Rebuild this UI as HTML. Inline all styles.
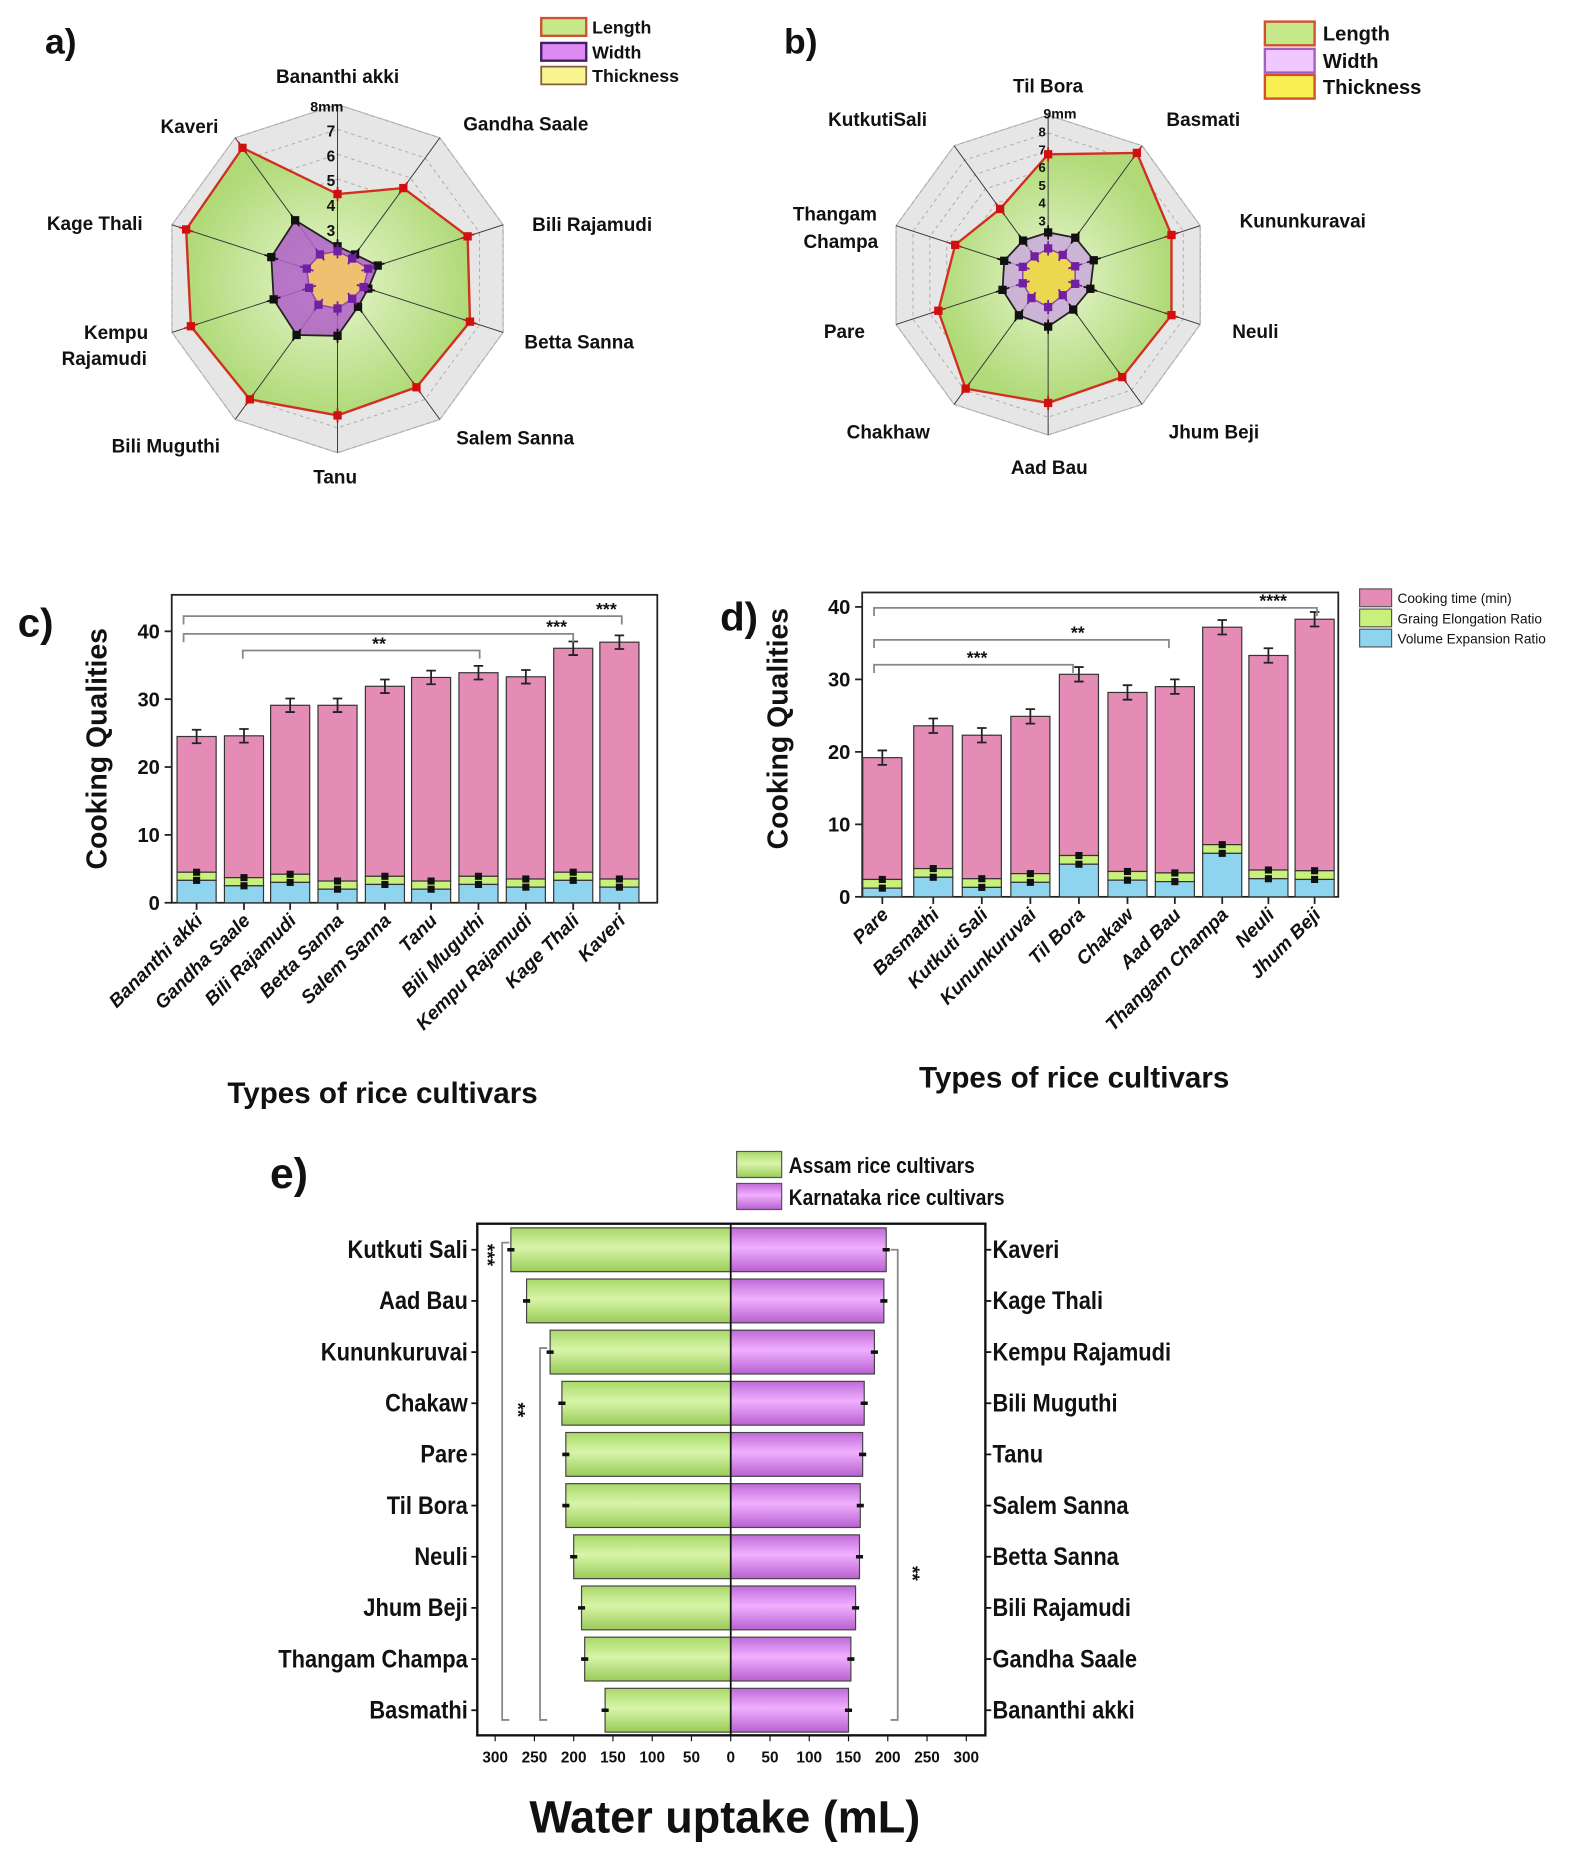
<!DOCTYPE html>
<html><head><meta charset="utf-8"><style>
html,body{margin:0;padding:0;background:#fff}
svg{display:block}
text{font-family:"Liberation Sans",sans-serif;font-weight:bold;fill:#111}
.n{font-family:"Liberation Sans Narrow","Liberation Sans",sans-serif}
</style></head><body>
<svg id="s" width="1587" height="1860" viewBox="0 0 1340 1570" xmlns="http://www.w3.org/2000/svg">
<defs>
<linearGradient id="gg" x1="0" y1="0" x2="0" y2="1"><stop offset="0" stop-color="#a9d86a"/><stop offset="0.45" stop-color="#d8f5a8"/><stop offset="1" stop-color="#9acb5a"/></linearGradient>
<linearGradient id="pg" x1="0" y1="0" x2="0" y2="1"><stop offset="0" stop-color="#c06ad8"/><stop offset="0.45" stop-color="#f0b0ff"/><stop offset="1" stop-color="#b860d0"/></linearGradient>
<radialGradient id="rg"><stop offset="0" stop-color="#e8f6d0"/><stop offset="1" stop-color="#b0da78"/></radialGradient>
</defs>
<g id="radar"></g>
<text x="38" y="45" font-size="30">a)</text>
<rect x="457" y="15" width="38" height="15" fill="#c5e88a" stroke="#d05030" stroke-width="2"/>
<rect x="457" y="36" width="38" height="15" fill="#dc8cf0" stroke="#402060" stroke-width="2"/>
<rect x="457" y="56" width="38" height="15" fill="#f8f490" stroke="#806040" stroke-width="1.5"/>
<text x="500" y="28" font-size="15">Length</text>
<text x="500" y="49" font-size="15">Width</text>
<text x="500" y="69" font-size="15">Thickness</text>
<g font-size="16" text-anchor="middle">
<text x="285" y="70">Bananthi akki</text>
<text x="444" y="110">Gandha Saale</text>
<text x="500" y="195">Bili Rajamudi</text>
<text x="489" y="294">Betta Sanna</text>
<text x="435" y="375">Salem Sanna</text>
<text x="283" y="408">Tanu</text>
<text x="140" y="382">Bili Muguthi</text>
<text x="98" y="286">Kempu</text><text x="88" y="308">Rajamudi</text>
<text x="80" y="194">Kage Thali</text>
<text x="160" y="112">Kaveri</text>
</g>
<g font-size="12" text-anchor="end"><text x="290" y="94">8mm</text></g>
<text x="662" y="45" font-size="30">b)</text>
<rect x="1068" y="18" width="42" height="20" fill="#c5e88a" stroke="#d05030" stroke-width="2"/>
<rect x="1068" y="41" width="42" height="20" fill="#f0c8ff" stroke="#a060c0" stroke-width="2"/>
<rect x="1068" y="63" width="42" height="20" fill="#f8f050" stroke="#d05030" stroke-width="2"/>
<text x="1117" y="34" font-size="17">Length</text>
<text x="1117" y="57" font-size="17">Width</text>
<text x="1117" y="79" font-size="17">Thickness</text>
<g font-size="16" text-anchor="middle">
<text x="885" y="78">Til Bora</text>
<text x="1016" y="106">Basmati</text>
<text x="1100" y="192">Kununkuravai</text>
<text x="1060" y="285">Neuli</text>
<text x="1025" y="370">Jhum Beji</text>
<text x="886" y="400">Aad Bau</text>
<text x="750" y="370">Chakhaw</text>
<text x="713" y="285">Pare</text>
<text x="705" y="186">Thangam</text><text x="710" y="209">Champa</text>
<text x="741" y="106">KutkutiSali</text>
</g>
<text x="895" y="100" font-size="12" text-anchor="middle">9mm</text>
<text x="15" y="537" font-size="34">c)</text>
<g id="cbars"></g>
<text transform="translate(90,632) rotate(-90)" font-size="24" text-anchor="middle">Cooking Qualities</text>
<text x="323" y="931" font-size="25" text-anchor="middle">Types of rice cultivars</text>
<text x="608" y="532" font-size="34">d)</text>
<g id="dbars"></g>
<text transform="translate(665,615) rotate(-90)" font-size="24" text-anchor="middle">Cooking Qualities</text>
<text x="907" y="918" font-size="25" text-anchor="middle">Types of rice cultivars</text>
<rect x="1148" y="497" width="27" height="15" fill="#e58cb6" stroke="#555"/>
<rect x="1148" y="514" width="27" height="15" fill="#c8f07a" stroke="#555"/>
<rect x="1148" y="531" width="27" height="15" fill="#8fd4ef" stroke="#555"/>
<g font-size="11.5"><text x="1180" y="509" style="font-weight:normal">Cooking time (min)</text><text x="1180" y="526" style="font-weight:normal">Graing Elongation Ratio</text><text x="1180" y="543" style="font-weight:normal">Volume Expansion Ratio</text></g>
<text x="228" y="1003" font-size="36">e)</text>
<rect x="622" y="972" width="38" height="22" fill="url(#gg)" stroke="#555"/>
<rect x="622" y="999" width="38" height="22" fill="url(#pg)" stroke="#555"/>
<text transform="translate(666,990) scale(0.85,1)" font-size="19" class="n">Assam rice cultivars</text>
<text transform="translate(666,1017) scale(0.85,1)" font-size="19" class="n">Karnataka rice cultivars</text>
<g id="ebars"></g>
<text x="612" y="1547" font-size="38" text-anchor="middle">Water uptake (mL)</text>
</svg>
<script>
var NS="http://www.w3.org/2000/svg";
function el(p,t,a,txt){var e=document.createElementNS(NS,t);for(var k in a)e.setAttribute(k,a[k]);if(txt!=null)e.textContent=txt;p.appendChild(e);return e;}
var R=document.getElementById('radar');
function pt(cx,cy,r,k){var a=k*Math.PI/5;return [cx+r*Math.sin(a),cy-r*Math.cos(a)];}
function poly(cx,cy,rs){return rs.map(function(r,k){return pt(cx,cy,r,k).join(',')}).join(' ');}
function radar(cx,cy,Rmax,nr,f,L,W,T,ticks,wc,wo,tc,wm){
  var o=[];for(var k=0;k<10;k++)o.push(Rmax);
  el(R,'polygon',{points:poly(cx,cy,o),fill:'#e6e6e6',stroke:'#bbb'});
  for(var i=1;i<=nr;i++){var rr=[];for(k=0;k<10;k++)rr.push(Rmax*i/nr);el(R,'polygon',{points:poly(cx,cy,rr),fill:'none',stroke:'#aaa','stroke-dasharray':'3,3','stroke-width':0.8});}
  var rl=L.map(f),rw=W.map(f),rt=T.map(f);
  el(R,'polygon',{points:poly(cx,cy,rl),fill:'url(#rg)',stroke:'#d03020','stroke-width':2});
  for(k=0;k<10;k++){var p=pt(cx,cy,Rmax,k);el(R,'line',{x1:cx,y1:cy,x2:p[0],y2:p[1],stroke:'#333','stroke-width':0.8});}
  el(R,'polygon',{points:poly(cx,cy,rw),fill:wc,'fill-opacity':wo,stroke:'#222','stroke-width':1.5});
  el(R,'polygon',{points:poly(cx,cy,rt),fill:tc,stroke:'#9040b0','stroke-width':1.2});
  [[rl,'#d01010'],[rw,'#111'],[rt,wm]].forEach(function(s){s[0].forEach(function(r,k){var p=pt(cx,cy,r,k);el(R,'rect',{x:p[0]-3.5,y:p[1]-3.5,width:7,height:7,fill:s[1]});var q1=pt(cx,cy,r-6,k),q2=pt(cx,cy,r+6,k);el(R,'line',{x1:q1[0],y1:q1[1],x2:q2[0],y2:q2[1],stroke:s[1],'stroke-width':1.5});});});
  ticks.forEach(function(t){el(R,'text',{x:t[0],y:t[1],'font-size':t[3]||13,'text-anchor':'end',fill:t[4]||'#111'},t[2]);});
}
radar(285,235,147,7,function(v){return (v-1)*21;},
 [4.4,5.5,6.5,6.6,6.4,6.5,7.0,7.2,7.4,7.5],[2.3,2.2,2.7,2.3,2.4,3.3,3.8,3.7,3.8,3.9],[2.1,2.0,2.3,2.1,2.0,2.2,2.3,2.2,2.3,2.2],
 [[283,115,'7'],[283,136,'6'],[283,157,'5'],[283,178,'4',13,'#4a7a20'],[283,199,'3',13,'#4a7a20']],'#b060c8',0.85,'#eec070','#7020a0');
radar(885,232,135,9,function(v){return v*15;},
 [6.8,8.5,7.3,7.3,7.1,7.2,7.9,6.5,5.5,4.6],[2.4,2.6,2.7,2.5,2.4,2.9,2.8,2.7,2.6,2.4],[1.5,1.4,1.6,1.6,1.4,1.8,1.6,1.5,1.5,1.3],
 [[883,115,'8',11],[883,130,'7',11],[883,145,'6',11],[883,160,'5',11],[883,175,'4',11],[883,190,'3',11]],'#c8a0e0',0.75,'#ecd850','#7020a0');

function bars(gid,x0,x1,yt,y0,ppu,centers,tot,blue,labels,brk,ticks){
  var g=document.getElementById(gid);
  el(g,'rect',{x:x0,y:yt,width:x1-x0,height:y0-yt,fill:'none',stroke:'#222','stroke-width':1.5});
  ticks.forEach(function(t){var y=y0-t*ppu;el(g,'line',{x1:x0-6,y1:y,x2:x0,y2:y,stroke:'#222','stroke-width':1.5});el(g,'text',{x:x0-10,y:y+6,'font-size':17,'text-anchor':'end'},t);});
  centers.forEach(function(c,i){var w=33,xl=c-w/2;var b=blue[i],gr=b+1.2,T=tot[i];
    el(g,'line',{x1:c,y1:y0,x2:c,y2:y0+6,stroke:'#222','stroke-width':1.5});
    el(g,'rect',{x:xl,y:y0-T*ppu,width:w,height:(T-gr)*ppu,fill:'#e58cb6',stroke:'#333'});
    el(g,'rect',{x:xl,y:y0-gr*ppu,width:w,height:1.2*ppu,fill:'#c8f07a',stroke:'#333'});
    el(g,'rect',{x:xl,y:y0-b*ppu,width:w,height:b*ppu,fill:'#8fd4ef',stroke:'#333'});
    var e=1*ppu,yT=y0-T*ppu;el(g,'path',{d:'M'+c+' '+(yT-e)+'V'+(yT+e)+'M'+(c-4)+' '+(yT-e)+'h8M'+(c-4)+' '+(yT+e)+'h8',stroke:'#222','stroke-width':1.5});
    el(g,'rect',{x:c-3,y:y0-b*ppu-3,width:6,height:6,fill:'#111'});el(g,'rect',{x:c-3,y:y0-gr*ppu-3,width:6,height:6,fill:'#111'});
    el(g,'text',{transform:'translate('+(c+6)+','+(y0+16)+') rotate(-45)','font-size':16,'text-anchor':'end','font-style':'italic'},labels[i]);
  });
  brk.forEach(function(b){el(g,'path',{d:'M'+b[0]+' '+(b[2]+7)+'V'+b[2]+'H'+b[1]+'V'+(b[2]+7),fill:'none',stroke:'#888','stroke-width':1.5});el(g,'text',{x:b[3],y:b[2]-1,'font-size':15,'text-anchor':'middle'},b[4]);});
}
bars('cbars',145,555,502,762,5.73,[166,206,245,285,325,364,404,444,484,523],[24.5,24.6,29.1,29.1,31.9,33.2,33.9,33.3,37.5,38.4],[3.3,2.5,3.0,2.0,2.7,2.0,2.7,2.3,3.3,2.3],
 ['Bananthi akki','Gandha Saale','Bili Rajamudi','Betta Sanna','Salem Sanna','Tanu','Bili Muguthi','Kempu Rajamudi','Kage Thali','Kaveri'],
 [[155,525,520,512,'***'],[155,484,535,470,'***'],[205,405,549,320,'**']],[0,10,20,30,40]);
bars('dbars',728,1130,500,757,6.12,[745,788,829,870,911,952,992,1032,1071,1110],[19.2,23.6,22.3,24.9,30.7,28.2,29.0,37.2,33.3,38.3],[1.2,2.7,1.3,2.0,4.5,2.3,2.1,6.0,2.5,2.4],
 ['Pare','Basmathi','Kutkuti Sali','Kununkuruvai','Til Bora','Chakaw','Aad Bau','Thangam Champa','Neuli','Jhum Beji'],
 [[738,1112,513,1075,'****'],[738,987,540,910,'**'],[738,906,561,825,'***']],[0,10,20,30,40]);

(function(){var g=document.getElementById('ebars');var x0=403,x1=832,yt=1033,yb=1465,cx=617,s=0.663;
 el(g,'rect',{x:x0,y:yt,width:x1-x0,height:yb-yt,fill:'none',stroke:'#111','stroke-width':2});
 var L=['Kutkuti Sali','Aad Bau','Kununkuruvai','Chakaw','Pare','Til Bora','Neuli','Jhum Beji','Thangam Champa','Basmathi'];
 var Rn=['Kaveri','Kage Thali','Kempu Rajamudi','Bili Muguthi','Tanu','Salem Sanna','Betta Sanna','Bili Rajamudi','Gandha Saale','Bananthi akki'];
 var lv=[280,260,230,215,210,210,200,190,186,160],rv=[198,195,183,170,168,165,164,159,153,150];
 for(var i=0;i<10;i++){var y=1055+i*43.2;
  el(g,'rect',{x:cx-lv[i]*s,y:y-18.5,width:lv[i]*s,height:37,fill:'url(#gg)',stroke:'#444'});
  el(g,'rect',{x:cx,y:y-18.5,width:rv[i]*s,height:37,fill:'url(#pg)',stroke:'#444'});
  el(g,'path',{d:'M'+(cx-lv[i]*s-3)+' '+y+'h6M'+(cx+rv[i]*s-3)+' '+y+'h6',stroke:'#111','stroke-width':3});
  el(g,'line',{x1:x0-5,y1:y,x2:x0,y2:y,stroke:'#111','stroke-width':1.5});el(g,'line',{x1:x1,y1:y,x2:x1+5,y2:y,stroke:'#111','stroke-width':1.5});
  el(g,'text',{transform:'translate(395,'+(y+7)+') scale(0.88,1)','font-size':21,'text-anchor':'end','class':'n'},L[i]);
  el(g,'text',{transform:'translate(838,'+(y+7)+') scale(0.88,1)','font-size':21,'class':'n'},Rn[i]);}
 el(g,'line',{x1:cx,y1:yt,x2:cx,y2:yb,stroke:'#111','stroke-width':1.5});
 [300,250,200,150,100,50,0,50,100,150,200,250,300].forEach(function(v,i){var x=i<6?cx-v*s:cx+v*s;el(g,'line',{x1:x,y1:yb,x2:x,y2:yb+5,stroke:'#111'});el(g,'text',{x:x,y:yb+23,'font-size':13,'text-anchor':'middle','class':'n'},v);});
 el(g,'path',{d:'M430 1049h-6V1452h6',fill:'none',stroke:'#888','stroke-width':1.5});
 el(g,'path',{d:'M462 1138h-6V1452h6',fill:'none',stroke:'#888','stroke-width':1.5});
 el(g,'path',{d:'M752 1055h6V1452h-6',fill:'none',stroke:'#888','stroke-width':1.5});
 el(g,'text',{transform:'translate(406,1050) rotate(90)','font-size':16},'***');
 el(g,'text',{transform:'translate(432,1184) rotate(90)','font-size':16},'**');
 el(g,'text',{transform:'translate(765,1322) rotate(90)','font-size':16},'**');
})();
</script>
</body></html>
